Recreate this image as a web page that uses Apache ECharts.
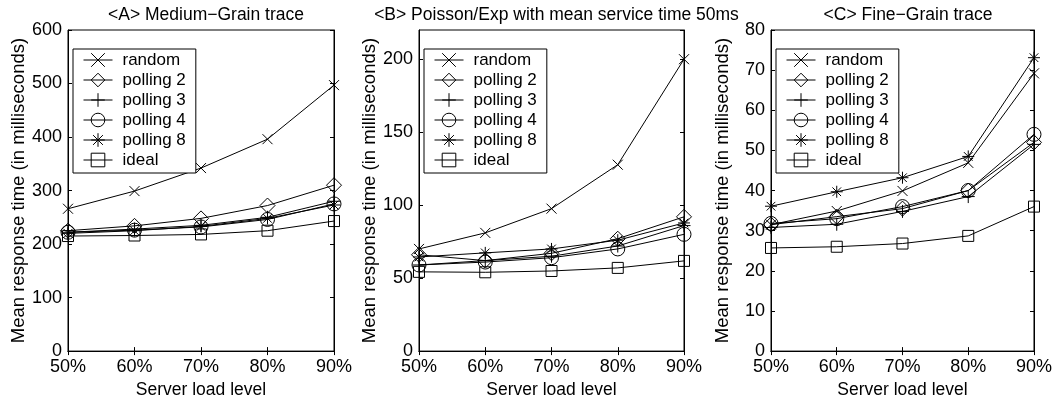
<!DOCTYPE html>
<html><head><meta charset="utf-8">
<script src="https://cdn.jsdelivr.net/npm/echarts@6/dist/echarts.min.js"></script>
<style>html,body{margin:0;padding:0;background:#fff}#c{width:1055px;height:404px}</style>
</head><body><div id="c"></div>
<script>
const categories = ['50%','60%','70%','80%','90%'];
const seriesNames = ['random','polling 2','polling 3','polling 4','polling 8','ideal'];
const titles = ['<A> Medium\u2212Grain trace','<B> Poisson/Exp with mean service time 50ms','<C> Fine\u2212Grain trace'];
// Panel A: Medium-Grain trace
const A_random = [266, 299, 342, 396, 497];
const A_poll2  = [225, 234, 248, 272, 310];
const A_poll3  = [222, 228, 235, 250, 280];
const A_poll4  = [222, 226, 232, 246, 275];
const A_poll8  = [220, 225, 233, 248, 273];
const A_ideal  = [215, 216, 218, 225, 243];
// Panel B: Poisson/Exp
const B_random = [70, 81, 97.6, 127.7, 200];
const B_poll2  = [66, 62, 67, 77, 92];
const B_poll3  = [59, 62, 65, 72, 86];
const B_poll4  = [59, 61, 64, 70, 80];
const B_poll8  = [64.5, 67.3, 70, 76, 87.8];
const B_ideal  = [54.3, 54, 54.9, 57, 61.8];
// Panel C: Fine-Grain trace
const C_random = [31.5, 34.9, 39.9, 46.9, 69.2];
const C_poll2  = [31.5, 33.5, 35.5, 40, 52];
const C_poll3  = [30.8, 31.6, 34.8, 38.5, 51.5];
const C_poll4  = [31.8, 33, 36, 40, 54];
const C_poll8  = [36.1, 39.7, 43.2, 48.5, 73.1];
const C_ideal  = [25.7, 26, 26.8, 28.7, 36];
const yMax = [600, 220, 80];
const yInterval = [100, 50, 10];

const panels = [
  [A_random, A_poll2, A_poll3, A_poll4, A_poll8, A_ideal],
  [B_random, B_poll2, B_poll3, B_poll4, B_poll8, B_ideal],
  [C_random, C_poll2, C_poll3, C_poll4, C_poll8, C_ideal]
];
const symbols = [
  'path://M0,0L10,10M0,10L10,0',
  'diamond',
  'path://M5,0L5,10M0,5L10,5',
  'circle',
  'path://M5,0L5,10M0,5L10,5M1.4,1.4L8.6,8.6M1.4,8.6L8.6,1.4',
  'rect'
];
const symSizes = [10, 15, 13, 14, 12, 11];
const FONT = "'Liberation Sans', Arial, Helvetica, sans-serif";
const gridL = [68, 419, 771];
const gridW = [266, 265, 264];

const chart = echarts.init(document.getElementById('c'));
const grid = [], xAxis = [], yAxis = [], series = [], legend = [], title = [];
for (let p = 0; p < 3; p++) {
  grid.push({left: gridL[p], width: gridW[p], top: 30, bottom: 52, show: true, borderColor: '#000', borderWidth: 1, backgroundColor: '#fff'});
  title.push({text: titles[p], left: gridL[p] + gridW[p] / 2, top: 1, textAlign: 'center',
    textStyle: {fontFamily: FONT, fontSize: 17.5, fontWeight: 'normal', color: '#000'}});
  const xi = xAxis.length;
  xAxis.push({type: 'category', gridIndex: p, data: categories, boundaryGap: false,
    axisLine: {show: true, lineStyle: {color: '#000'}},
    axisTick: {show: true, inside: true, length: 4, lineStyle: {color: '#000'}},
    axisLabel: {color: '#000', fontFamily: FONT, fontSize: 18, margin: 7},
    splitLine: {show: false},
    name: 'Server load level', nameLocation: 'middle', nameGap: 26,
    nameTextStyle: {color: '#000', fontFamily: FONT, fontSize: 17.5}});
  xAxis.push({type: 'category', gridIndex: p, data: categories, boundaryGap: false, position: 'top',
    axisLine: {show: true, lineStyle: {color: '#000'}},
    axisTick: {show: true, inside: true, length: 4, lineStyle: {color: '#000'}},
    axisLabel: {show: false}, splitLine: {show: false}});
  const yi = yAxis.length;
  yAxis.push({type: 'value', gridIndex: p, min: 0, max: yMax[p], interval: yInterval[p],
    axisLine: {show: true, lineStyle: {color: '#000'}},
    axisTick: {show: true, inside: true, length: 4, lineStyle: {color: '#000'}},
    axisLabel: {color: '#000', fontFamily: FONT, fontSize: 18, margin: 6, showMaxLabel: p !== 1},
    splitLine: {show: false},
    name: 'Mean response time (in milliseconds)', nameLocation: 'middle', nameGap: 39,
    nameTextStyle: {color: '#000', fontFamily: FONT, fontSize: 18.5}});
  yAxis.push({type: 'value', gridIndex: p, min: 0, max: yMax[p], interval: yInterval[p], position: 'right',
    axisLine: {show: true, lineStyle: {color: '#000'}},
    axisTick: {show: true, inside: true, length: 4, lineStyle: {color: '#000'}},
    axisLabel: {show: false}, splitLine: {show: false}});
  for (let s = 0; s < 6; s++) {
    series.push({type: 'line', name: seriesNames[s], xAxisIndex: xi, yAxisIndex: yi,
      data: panels[p][s], symbol: symbols[s], symbolSize: symSizes[s], showAllSymbol: true,
      animation: false, z: 3,
      lineStyle: {color: '#000', width: 1},
      itemStyle: {color: 'rgba(255,255,255,0)', borderColor: '#000', borderWidth: 1}});
  }
  legend.push({data: seriesNames, orient: 'vertical', left: gridL[p] + 5, top: 49,
    backgroundColor: '#fff', borderColor: '#000', borderWidth: 1, borderRadius: 0,
    padding: [1, 10, 3, 10], itemGap: 0, itemWidth: 29, itemHeight: 17, selectedMode: false,
    lineStyle: {width: 1, color: '#000'},
    itemStyle: {borderWidth: 1, borderColor: '#000', color: 'rgba(255,255,255,0)'},
    textStyle: {color: '#000', fontFamily: FONT, fontSize: 17, lineHeight: 20, padding: [0, 0, 0, 5]}});
}
chart.setOption({animation: false, backgroundColor: '#fff', title, grid, xAxis, yAxis, series, legend});
</script></body></html>
